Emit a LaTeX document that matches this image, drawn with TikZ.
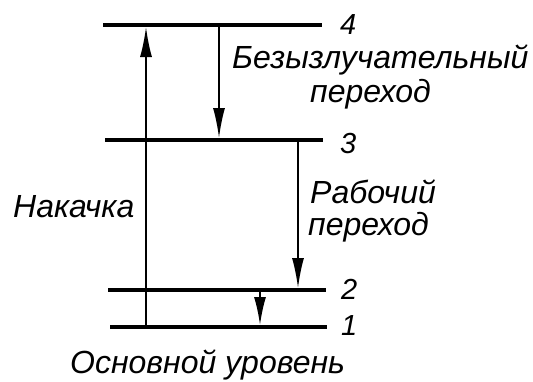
\documentclass[tikz,border=0pt]{standalone}
\usepackage{fontspec}
\setmainfont{Liberation Sans}
\usetikzlibrary{arrows.meta}
\begin{document}
\begin{tikzpicture}[x=1pt,y=-1pt,
  level/.style={line width=3.5pt},
  arr/.style={line width=1.8pt,-{Latex[length=30pt,width=12pt]}},
  lbl/.style={font=\fontsize{32}{38}\selectfont\itshape, inner sep=0pt, anchor=base west},
  num/.style={font=\fontsize{29}{34}\selectfont\itshape, inner sep=0pt, anchor=base west}]
\useasboundingbox (0,0) rectangle (533,381);
% levels
\coordinate (l4a) at (103,25);  \coordinate (l4b) at (322,25);
\coordinate (l3a) at (105,140); \coordinate (l3b) at (323,140);
\coordinate (l2a) at (108,290); \coordinate (l2b) at (326,290);
\coordinate (l1a) at (110,327); \coordinate (l1b) at (327,327);
\draw[level] (l4a) -- (l4b);
\draw[level] (l3a) -- (l3b);
\draw[level] (l2a) -- (l2b);
\draw[level] (l1a) -- (l1b);
% arrows
\coordinate (pb) at (146,327); \coordinate (pt) at (146,27);
\coordinate (nt) at (219,25);  \coordinate (nb) at (219,138);
\coordinate (wt) at (298,140); \coordinate (wb) at (298,288);
\coordinate (st) at (260,290); \coordinate (sb) at (260,325);
\draw[arr] (pb) -- (pt);
\draw[arr] (nt) -- (nb);
\draw[arr] (wt) -- (wb);
\draw[arr,-{Latex[length=28pt,width=12pt]}] (st) -- (sb);
% labels
\node[num] (n4) at (340,34) {4};
\node[num] (n3) at (340,153) {3};
\node[num] (n2) at (341,299) {2};
\node[num] (n1) at (341,335) {1};
\node[lbl] (bez) at (232,68) {Безызлучательный};
\node[lbl] (per1) at (310,102) {переход};
\node[lbl] (rab) at (310,203) {Рабочий};
\node[lbl] (per2) at (308,235) {переход};
\node[lbl] (nak) at (13,217) {Накачка};
\node[lbl] (osn) at (70,373) {Основной уровень};
\end{tikzpicture}
\end{document}
